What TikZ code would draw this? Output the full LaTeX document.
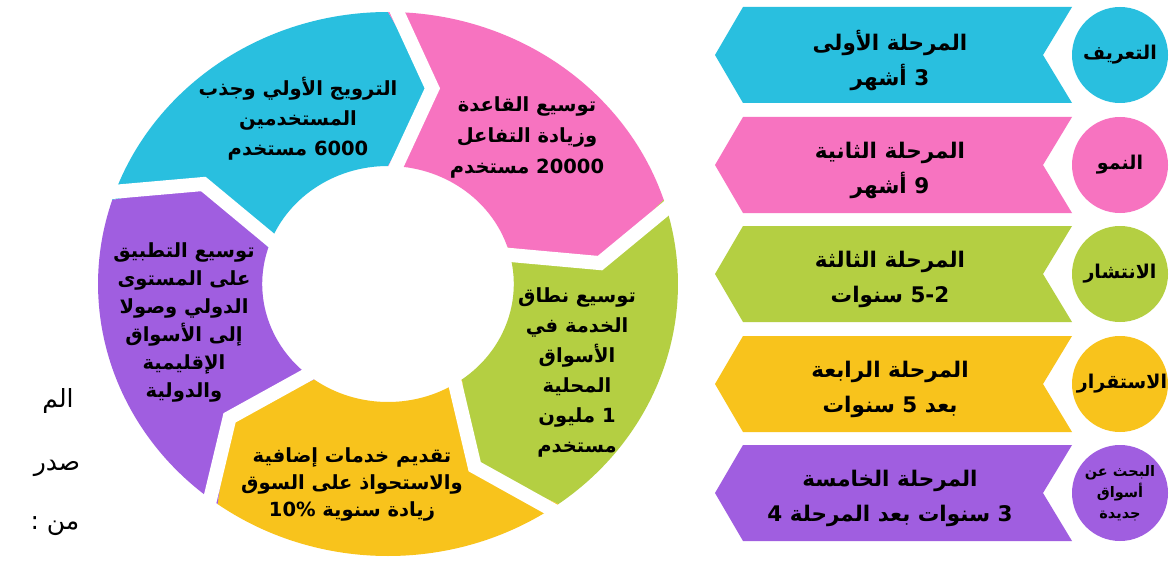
\documentclass[tikz,border=0pt]{standalone}
\usepackage{fontspec}
\newfontfamily\arf[Script=Arabic]{DejaVu Sans}
\TeXXeTstate=1
\newcommand\AR[1]{\beginR #1\endR}
\definecolor{cyn}{RGB}{41,191,223}
\definecolor{pnk}{RGB}{247,115,192}
\definecolor{grn}{RGB}{180,207,66}
\definecolor{ylw}{RGB}{248,195,28}
\definecolor{prp}{RGB}{160,94,224}
\tikzset{
  ringtxt/.style={font=\arf\bfseries\fontsize{19.5}{30}\selectfont, align=center, text=black, inner sep=0pt},
  bantxt/.style={font=\arf\bfseries\fontsize{21.5}{35}\selectfont, align=center, text=black, inner sep=0pt},
  circtxt/.style={font=\arf\bfseries\fontsize{19}{22}\selectfont, align=center, text=black, inner sep=0pt},
  smalltxt/.style={font=\arf\bfseries\fontsize{14.5}{21}\selectfont, align=center, text=black, inner sep=0pt},
  srctxt/.style={font=\arf\fontsize{25}{28}\selectfont, text=black, inner sep=0pt},
  stagecirc/.style={circle, minimum size=96pt, inner sep=0pt},
}
\begin{document}
\begin{tikzpicture}[x=1pt,y=-1pt]
\useasboundingbox (0,0) rectangle (1169,567);
\fill[white] (0,0) rectangle (1169,567);
% ring
\begin{scope}[shift={(388,284)}, xscale=1.066, yscale=-1]
\foreach \s/\c in {162/cyn,90/pnk,18/grn,-54/ylw,-126/prp}{
  \pgfmathsetmacro\e{\s-72}
  \fill[\c] (\s:272) arc[start angle=\s, end angle=\e, radius=272]
    -- ({\e-12}:200) -- (\e:118) arc[start angle=\e, end angle=\s, radius=118]
    -- ({\s-12}:200) -- cycle;
}
\foreach \a in {162,90,18,-54,-126}{
  \draw[white, line width=14pt, line join=miter] (\a:292) -- ({\a-12}:200) -- (\a:100);
}
\end{scope}
% ring texts
\node[ringtxt] (t1) at (298,119) {\AR{الترويج الأولي وجذب}\\\AR{المستخدمين}\\\AR{6000 مستخدم}};
\node[ringtxt, font=\arf\bfseries\fontsize{19.5}{31}\selectfont] (t2) at (527,137) {\AR{توسيع القاعدة}\\\AR{وزيادة التفاعل}\\\AR{20000 مستخدم}};
\node[ringtxt] (t3) at (577,372) {\AR{توسيع نطاق}\\\AR{الخدمة في}\\\AR{الأسواق}\\\AR{المحلية}\\\AR{1 مليون}\\\AR{مستخدم}};
\node[ringtxt, font=\arf\bfseries\fontsize{19.5}{27}\selectfont] (t4) at (352,484) {\AR{تقديم خدمات إضافية}\\\AR{والاستحواذ على السوق}\\\AR{زيادة سنوية 10\%}};
\node[ringtxt, font=\arf\bfseries\fontsize{19.5}{28}\selectfont] (t5) at (184,322) {\AR{توسيع التطبيق}\\\AR{على المستوى}\\\AR{الدولي وصولا}\\\AR{إلى  الأسواق}\\\AR{الإقليمية}\\\AR{والدولية}};
% banners
\foreach \t/\c/\n in {7/cyn/1,117/pnk/2,226/grn/3,336/ylw/4,445/prp/5}{
  \fill[\c] (743,\t) -- (1072,\t) -- (1043,\t+48) -- (1072,\t+96) -- (743,\t+96) -- (715,\t+48) -- cycle;
  \node[stagecirc, fill=\c] (c\n) at (1120,\t+48) {};
}
\node[bantxt] (b1) at (890,60) {\AR{المرحلة الأولى}\\\AR{3 أشهر}};
\node[bantxt] (b2) at (890,170) {\AR{المرحلة الثانية}\\\AR{9 أشهر}};
\node[bantxt] (b3) at (890,279) {\AR{المرحلة الثالثة}\\\AR{5-2 سنوات}};
\node[bantxt] (b4) at (890,389) {\AR{المرحلة الرابعة}\\\AR{بعد 5 سنوات}};
\node[bantxt] (b5) at (890,498) {\AR{المرحلة الخامسة}\\\AR{3 سنوات بعد المرحلة 4}};
% circle labels
\node[circtxt] (l1) at (c1) {\AR{التعريف}};
\node[circtxt] (l2) at (c2) {\AR{النمو}};
\node[circtxt] (l3) at (c3) {\AR{الانتشار}};
\node[circtxt] (l4) at ([xshift=2pt]c4) {\AR{الاستقرار}};
\node[smalltxt] (l5) at (c5) {\AR{البحث عن}\\\AR{أسواق}\\\AR{جديدة}};
% source text
\node[srctxt] (s1) at (58,401) {\AR{الم}};
\node[srctxt] (s2) at (57,468) {\AR{صدر}};
\node[srctxt] (s3) at (55,526) {\AR{من :}};
\end{tikzpicture}
\end{document}
